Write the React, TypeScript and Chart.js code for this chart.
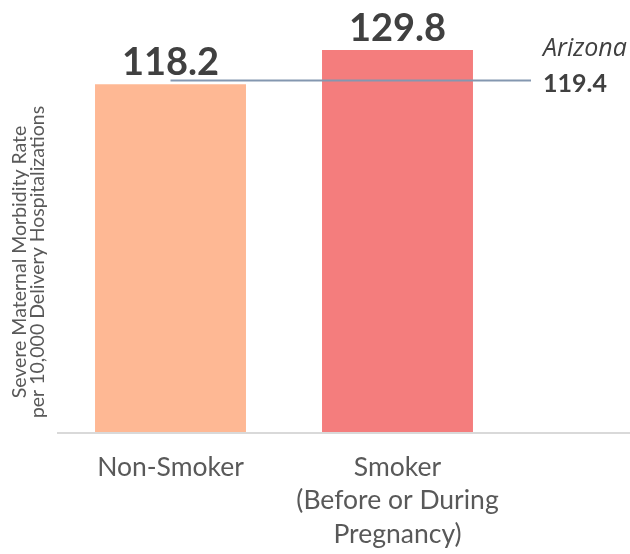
import React, { useEffect, useRef } from "react";
import { Chart, registerables } from "chart.js";

Chart.register(...registerables);

const categories: string[][] = [
  ["Non-Smoker"],
  ["Smoker", "(Before or During", "Pregnancy)"],
];
const rates: number[] = [118.2, 129.8];
const barColors: string[] = ["#FEB894", "#F47D7D"];
const stateName = "Arizona";
const stateRate = 119.4;
const yAxisTitle: string[] = [
  "Severe Maternal Morbidity Rate",
  "per 10,000 Delivery Hospitalizations",
];
const yMin = 0;
const yMax = 140;

const overlayPlugin = {
  id: "overlay",
  afterDatasetsDraw(chart: any) {
    const { ctx, chartArea, scales } = chart;
    const x = scales.x;
    const y = scales.y;
    ctx.save();
    // axis line extended to right edge
    ctx.strokeStyle = "#D9D9D9";
    ctx.lineWidth = 2;
    ctx.beginPath();
    ctx.moveTo(chartArea.left, chartArea.bottom + 1);
    ctx.lineTo(chart.width, chartArea.bottom + 1);
    ctx.stroke();

    // y axis title
    ctx.save();
    ctx.translate(0, (chartArea.top + chartArea.bottom) / 2 + 36);
    ctx.rotate(-Math.PI / 2);
    ctx.fillStyle = "#595959";
    ctx.font = "19.5px Lato";
    ctx.textAlign = "center";
    ctx.textBaseline = "middle";
    ctx.fillText(yAxisTitle[0], 0, 20);
    ctx.fillText(yAxisTitle[1], 0, 38);
    ctx.restore();

    // value labels
    const meta = chart.getDatasetMeta(0);
    ctx.fillStyle = "#404040";
    ctx.font = "bold 38px Lato";
    ctx.textAlign = "center";
    ctx.textBaseline = "alphabetic";
    meta.data.forEach((bar: any, i: number) => {
      ctx.fillText(rates[i].toFixed(1), bar.x, bar.y - 9);
    });

    // state reference line
    const ly = y.getPixelForValue(stateRate);
    const x0 = x.getPixelForValue(0);
    const x1 = chart.width - 99;
    ctx.strokeStyle = "#8497B0";
    ctx.lineWidth = 2;
    ctx.beginPath();
    ctx.moveTo(x0, ly);
    ctx.lineTo(x1, ly);
    ctx.stroke();

    ctx.textAlign = "left";
    ctx.fillStyle = "#404040";
    ctx.font = "italic 25px 'Open Sans'";
    ctx.fillText(stateName, x1 + 12, ly - 25);
    ctx.font = "bold 25px Lato";
    ctx.fillText(stateRate.toFixed(1), x1 + 12, ly + 11);
    ctx.restore();
  },
};

export default function App() {
  const canvasRef = useRef<HTMLCanvasElement | null>(null);

  useEffect(() => {
    if (!canvasRef.current) return;
    const chart = new Chart(canvasRef.current, {
      type: "bar",
      data: {
        labels: categories as any,
        datasets: [
          {
            data: rates,
            backgroundColor: barColors,
            borderWidth: 0,
            categoryPercentage: 1,
            barPercentage: 0.665,
          },
        ],
      },
      options: {
        animation: false,
        responsive: false,
        maintainAspectRatio: false,
        layout: { padding: { top: 20, right: 119, left: 6, bottom: 0 } },
        plugins: {
          legend: { display: false },
          tooltip: { enabled: false },
        },
        scales: {
          x: {
            grid: { display: false, drawTicks: false },
            border: { display: false },
            ticks: {
              color: "#595959",
              font: { family: "Lato", size: 26.5, lineHeight: 1.28 },
              padding: 18,
              maxRotation: 0,
              autoSkip: false,
            },
            afterFit: (scale: any) => {
              scale.height = 122;
            },
          },
          y: {
            min: yMin,
            max: yMax,
            grid: { display: false, drawTicks: false },
            border: { display: false },
            ticks: { display: false },
            title: { display: false },
            afterFit: (scale: any) => {
              scale.width = 51;
            },
          },
        },
      },
      plugins: [overlayPlugin],
    });
    return () => chart.destroy();
  }, []);

  return (
    <div style={{ position: "absolute", left: 0, top: 0, width: 630, height: 554 }}>
      <canvas ref={canvasRef} width={630} height={554} />
    </div>
  );
}
